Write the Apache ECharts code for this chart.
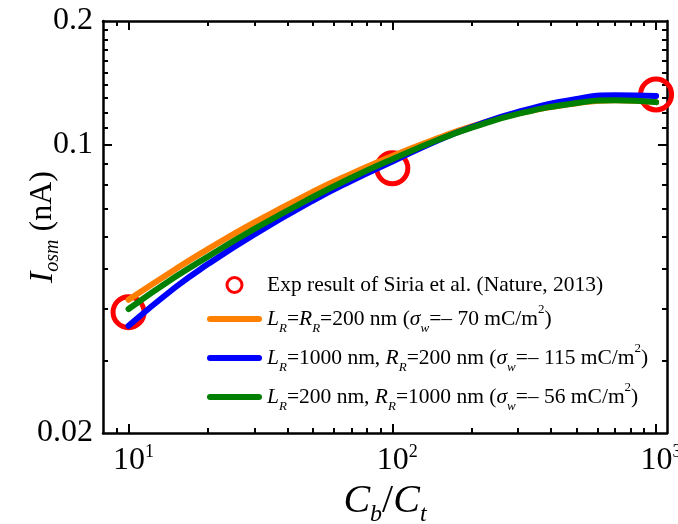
<!DOCTYPE html>
<html>
<head>
<meta charset="utf-8">
<script src="https://cdn.jsdelivr.net/npm/echarts@6/dist/echarts.min.js"></script>
<style>
html, body { margin: 0; padding: 0; background: #fff; }
#container { width: 678px; height: 524px; }
</style>
</head>
<body>
<div id="container"></div>
<script>
// data (x: Cb/Ct, y: Iosm in nA)
var ratio = [10, 15, 20, 30, 50, 70, 100, 150, 200, 300, 500, 700, 1000];
var expRatio = [10, 100, 1000];
var expCurrent = [0.0393, 0.0878, 0.1327];
var currentOrange = [0.0421, 0.0499, 0.0559, 0.0649, 0.0770, 0.0852, 0.0941, 0.1041, 0.1110, 0.1194, 0.1263, 0.1284, 0.1271];
var currentBlue = [0.0364, 0.0451, 0.0514, 0.0607, 0.0733, 0.0819, 0.0912, 0.1029, 0.1106, 0.1204, 0.1294, 0.1320, 0.1316];
var currentGreen = [0.0400, 0.0478, 0.0536, 0.0626, 0.0748, 0.0833, 0.0924, 0.1031, 0.1102, 0.1190, 0.1265, 0.1284, 0.1271];

var xRange = [8, 1100];
var yRange = [0.02, 0.2];
var xMajor = [10, 100, 1000];
var xMinor = [9, 20, 30, 40, 50, 60, 70, 80, 90, 200, 300, 400, 500, 600, 700, 800, 900];
var yLabels = [0.02, 0.1, 0.2];
var yMajor = [0.1];
var yMinor = [0.03, 0.04, 0.05, 0.06, 0.07, 0.08, 0.09, 0.11, 0.12, 0.13, 0.14, 0.15, 0.16, 0.17, 0.18, 0.19];

var FONT = "'Liberation Serif', 'Times New Roman', serif";
// rounded bar used as legend icon for the curves
var LINE_ICON = 'path://M3,0 L52,0 A3,3 0 0 1 52,6 L3,6 A3,3 0 0 1 3,0 Z';

function lg(arr) {
    return arr.map(function (v) { return Math.log10(v); });
}
function pairs(xs, ys) {
    var out = [];
    for (var i = 0; i < xs.length; i++) {
        out.push([Math.log10(xs[i]), Math.log10(ys[i])]);
    }
    return out;
}

// one axis = one set of ticks (major or minor), overlapped on the same side
function makeAxis(dim, pos, ticks, len, showLine) {
    var range = dim == 'x' ? xRange : yRange;
    return {
        type: 'value',
        position: pos,
        min: Math.log10(range[0]),
        max: Math.log10(range[1]),
        axisLine: { show: showLine, onZero: false, lineStyle: { color: '#000', width: 2.5 } },
        axisTick: { show: true, inside: true, length: len, customValues: lg(ticks), lineStyle: { color: '#000', width: 2 } },
        axisLabel: { show: false },
        splitLine: { show: false },
        axisPointer: { show: false }
    };
}

var xBottom = makeAxis('x', 'bottom', xMajor, 9, true);
xBottom.axisLabel = {
    show: true,
    customValues: lg(xMajor),
    margin: 10,
    formatter: function (v) {
        return '{b|10}{s|' + Math.round(v) + '}';
    },
    rich: {
        b: { fontFamily: FONT, fontSize: 32, color: '#000', lineHeight: 36, padding: [0, 0, 0, 10] },
        s: { fontFamily: FONT, fontSize: 18, color: '#000', lineHeight: 24, verticalAlign: 'top' }
    }
};
xBottom.name = '{c|C}{sb|b}{n|/}{c|C}{sb|t}';
xBottom.nameLocation = 'middle';
xBottom.nameGap = 42;
xBottom.nameTextStyle = {
    rich: {
        c: { fontFamily: FONT, fontStyle: 'italic', fontSize: 40, color: '#000', lineHeight: 50 },
        n: { fontFamily: FONT, fontSize: 40, color: '#000', lineHeight: 50 },
        sb: { fontFamily: FONT, fontStyle: 'italic', fontSize: 24, color: '#000', lineHeight: 24, verticalAlign: 'bottom' }
    }
};

var yLeft = makeAxis('y', 'left', yMajor, 9, true);
yLeft.axisLabel = {
    show: true,
    customValues: lg(yLabels),
    margin: 10,
    fontFamily: FONT,
    fontSize: 32,
    color: '#000',
    formatter: function (v) {
        return String(Number(Math.pow(10, v).toPrecision(2)));
    }
};
yLeft.name = '{i|I}{sb|osm}{n| (nA)}';
yLeft.nameLocation = 'middle';
yLeft.nameGap = 40;
yLeft.nameMoveOverlap = false;
yLeft.nameTextStyle = {
    rich: {
        i: { fontFamily: FONT, fontStyle: 'italic', fontSize: 34, color: '#000', lineHeight: 40 },
        n: { fontFamily: FONT, fontSize: 32, color: '#000', lineHeight: 40 },
        sb: { fontFamily: FONT, fontStyle: 'italic', fontSize: 20, color: '#000', lineHeight: 20, verticalAlign: 'bottom' }
    }
};

var legendNames = {
    exp: '{t|Exp result of Siria et al. (Nature, 2013)}',
    a: '{i|L}{sb|R}{n|=}{i|R}{sb|R}{n|=200 nm (}{i|σ}{sb|w}{n|=– 70 mC/m}{sp|2}{n|)}',
    b: '{i|L}{sb|R}{n|=1000 nm, }{i|R}{sb|R}{n|=200 nm (}{i|σ}{sb|w}{n|=– 115 mC/m}{sp|2}{n|)}',
    c: '{i|L}{sb|R}{n|=200 nm, }{i|R}{sb|R}{n|=1000 nm (}{i|σ}{sb|w}{n|=– 56 mC/m}{sp|2}{n|)}'
};

function lineSeries(name, values, color) {
    return {
        name: name,
        type: 'line',
        xAxisIndex: 0,
        yAxisIndex: 0,
        data: pairs(ratio, values),
        smooth: 0.5,
        symbol: 'none',
        showSymbol: false,
        lineStyle: { color: color, width: 6, cap: 'round' },
        itemStyle: { color: color },
        animation: false
    };
}

var option = {
    backgroundColor: '#fff',
    animation: false,
    grid: { left: 103, right: 11, top: 21, bottom: 91, containLabel: false, outerBoundsMode: 'none' },
    xAxis: [
        xBottom,
        makeAxis('x', 'bottom', xMinor, 5, false),
        makeAxis('x', 'top', xMajor, 9, true),
        makeAxis('x', 'top', xMinor, 5, false)
    ],
    yAxis: [
        yLeft,
        makeAxis('y', 'left', yMinor, 5, false),
        makeAxis('y', 'right', yMajor, 9, true),
        makeAxis('y', 'right', yMinor, 5, false)
    ],
    legend: {
        orient: 'vertical',
        left: 207,
        top: 274,
        padding: 0,
        itemGap: 7,
        itemWidth: 55,
        itemHeight: 15,
        selectedMode: false,
        data: [
            { name: 'exp', itemStyle: { borderWidth: 3 } },
            { name: 'a', icon: LINE_ICON },
            { name: 'b', icon: LINE_ICON },
            { name: 'c', icon: LINE_ICON }
        ],
        formatter: function (name) {
            return legendNames[name];
        },
        textStyle: {
            fontFamily: FONT,
            fontSize: 21.5,
            color: '#000',
            rich: {
                t: { fontFamily: FONT, fontSize: 21.5, color: '#000', lineHeight: 22 },
                n: { fontFamily: FONT, fontSize: 21.5, color: '#000', lineHeight: 32 },
                i: { fontFamily: FONT, fontStyle: 'italic', fontSize: 21.5, color: '#000', lineHeight: 32 },
                sb: { fontFamily: FONT, fontStyle: 'italic', fontSize: 13, color: '#000', lineHeight: 12, verticalAlign: 'bottom' },
                sp: { fontFamily: FONT, fontSize: 13, color: '#000', lineHeight: 29, verticalAlign: 'top' }
            }
        }
    },
    series: [
        {
            name: 'exp',
            type: 'scatter',
            xAxisIndex: 0,
            yAxisIndex: 0,
            data: pairs(expRatio, expCurrent),
            symbol: 'circle',
            symbolSize: 31,
            clip: false,
            itemStyle: { color: 'rgba(255,255,255,0)', borderColor: '#ff0000', borderWidth: 5, opacity: 1 },
            z: 1
        },
        lineSeries('a', currentOrange, '#ff8000'),
        lineSeries('b', currentBlue, '#0000ff'),
        lineSeries('c', currentGreen, '#008000')
    ]
};

var container = echarts.init(document.getElementById('container'));
container.setOption(option);
</script>
</body>
</html>
